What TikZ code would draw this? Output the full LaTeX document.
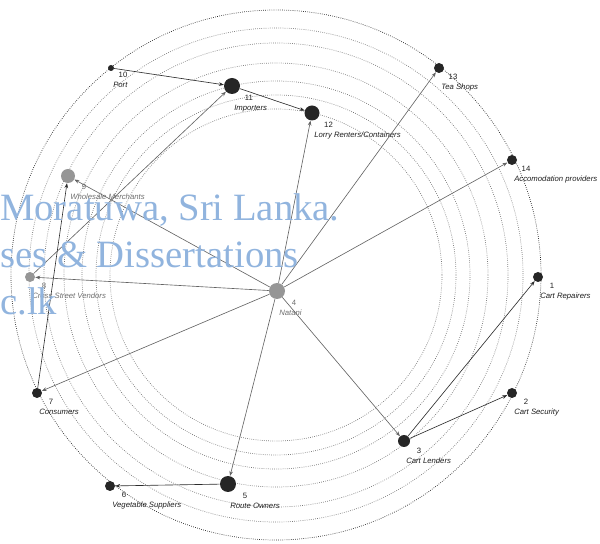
\documentclass[tikz,border=0pt]{standalone}
\usepackage{fontspec}
\setmainfont{Liberation Sans}
\newfontfamily\markFont{Liberation Serif}
\usetikzlibrary{arrows.meta}
\tikzstyle{netPlane} = [x = 0.025cm, y = -0.025cm]
\definecolor{actorBlack}{RGB}{38,38,38}
\definecolor{actorGrey}{RGB}{150,150,150}
\definecolor{labelBlack}{RGB}{30,30,30}
\definecolor{labelGrey}{RGB}{110,110,110}
\definecolor{tieBlack}{RGB}{45,45,45}
\definecolor{tieGrey}{RGB}{100,100,100}
\definecolor{ringColor}{RGB}{120,120,120}
\definecolor{outerRingColor}{RGB}{40,40,40}
\definecolor{markColor}{RGB}{145,180,222}
\tikzstyle{actorStyle} = [circle, inner sep = 0pt]
\tikzstyle{numText} = [font = \fontsize{5.5}{6}\selectfont, inner sep = 0pt, anchor = base]
\tikzstyle{labelText} = [font = \fontsize{5.5}{6}\selectfont\itshape, inner sep = 0pt, anchor = base west]
\tikzstyle{tieLine} = [line width = 0.45pt, -{Stealth[length = 3.5pt, width = 2.6pt]}]
\tikzstyle{ringLine} = [color = ringColor, line width = 0.5pt, dash pattern = on 0.5pt off 1pt]
\tikzstyle{markText} = [font = \markFont\fontsize{27.5}{27.5}\selectfont, text = markColor, inner sep = 0pt, anchor = base west]
\newcommand{\actor}[6]{
  \node [actorStyle, fill = actor#5, minimum size = #4 * 0.025cm] (n#1) at (#2, #3) {};
  \node [numText, text = label#5] (n#1num) at (#2 + #4 / 2 + 9, #3 + #4 / 2 + 7) {#1};
  \node [labelText, text = label#5] (n#1lab) at (#2 + 2, #3 + #4 / 2 + 17) {#6};
}
\newcommand{\tie}[3]{\draw [tieLine, color = tie#3] (n#1) -- (n#2);}

\begin{document}
\begin{tikzpicture}[netPlane]
  \useasboundingbox (0, 0) rectangle (600, 544);
  \clip (0, 0) rectangle (600, 544);

  % rings
  \foreach \radius in {166, 180, 194, 212, 232, 247} {
    \draw [ringLine] (276, 275) circle (\radius);
  }
  \draw [ringLine, color = outerRingColor] (276, 275) circle (265);

  % actors
  \actor{1}{538}{277}{10}{Black}{Cart Repairers}
  \actor{2}{512}{393}{10}{Black}{Cart Security}
  \actor{3}{404}{441}{12}{Black}{Cart Lenders}
  \actor{4}{277}{291}{16}{Grey}{Natani}
  \actor{5}{228}{484}{16}{Black}{Route Owners}
  \actor{6}{110}{486}{10}{Black}{Vegetable Suppliers}
  \actor{7}{37}{393}{10}{Black}{Consumers}
  \actor{8}{30}{277}{10}{Grey}{Cross Street Vendors}
  \actor{9}{68}{176}{14}{Grey}{Wholesale Merchants}
  \actor{10}{111}{68}{6}{Black}{Port}
  \actor{11}{232}{86}{16}{Black}{Importers}
  \actor{12}{312}{113}{15}{Black}{Lorry Renters/Containers}
  \actor{13}{439}{68}{10}{Black}{Tea Shops}
  \actor{14}{512}{160}{10}{Black}{Accomodation providers}

  % ties
  \tie{10}{11}{Black}
  \tie{11}{12}{Black}
  \tie{8}{11}{Grey}
  \tie{4}{12}{Grey}
  \tie{4}{13}{Grey}
  \tie{4}{14}{Grey}
  \tie{4}{3}{Grey}
  \tie{3}{1}{Black}
  \tie{3}{2}{Black}
  \tie{4}{5}{Grey}
  \tie{5}{6}{Black}
  \tie{4}{7}{Grey}
  \tie{7}{9}{Black}
  \tie{4}{9}{Grey}
  \tie{4}{8}{Grey}

  % watermark
  \node [markText] (markOne) at (0, 221) {Moratuwa, Sri Lanka.};
  \node [markText] (markTwo) at (0, 268) {ses \& Dissertations};
  \node [markText] (markThree) at (0, 315) {c.lk};
\end{tikzpicture}
\end{document}
